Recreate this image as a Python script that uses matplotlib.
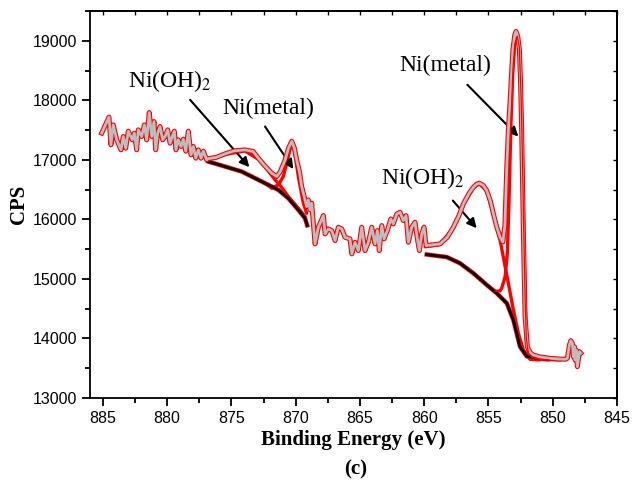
import matplotlib
matplotlib.use("Agg")
import matplotlib.pyplot as plt
from matplotlib.ticker import MultipleLocator

be_exp = [885.09, 884.52, 884.37, 884.19, 883.92, 883.59, 883.41, 883.22, 883.02, 882.71,
          882.55, 882.37, 882.24, 881.98, 881.77, 881.59, 881.39, 881.2, 881.02, 880.89,
          880.73, 880.55, 880.34, 880.16, 879.95, 879.77, 879.6, 879.44, 879.31, 879.13,
          878.92, 878.74, 878.55, 878.35, 878.14, 877.96, 877.77, 877.57, 877.36, 877.18,
          876.92,
          876.8, 876.2, 875.5, 874.8, 873.94, 873.3, 872.9, 872.4, 871.86, 871.47,
          871.2, 870.82, 870.55, 870.3, 870.1, 869.92, 869.7, 869.53, 869.3, 869.14,
          869.01, 868.88, 868.75, 868.49, 868.23, 867.84, 867.71, 867.46, 867.19, 866.93,
          866.68, 866.41, 866.16, 865.77, 865.63, 865.38, 865.12, 864.86, 864.6, 864.34,
          864.08, 863.82, 863.64, 863.49, 863.3, 863.12, 862.86, 862.6, 862.4, 862.13,
          861.88, 861.62, 861.41, 861.23, 860.97, 860.71, 860.53, 860.37, 860.19, 860.01,
          859.85,
          859.3, 858.76, 858.2, 857.73, 857.3, 856.95, 856.5, 856.17, 855.9, 855.7,
          855.4, 855.13, 854.85, 854.61, 854.35, 854.09, 853.88, 853.72, 853.57, 853.45,
          853.31, 853.1, 852.95, 852.85, 852.72, 852.59, 852.5, 852.41, 852.28, 852.15,
          851.97, 851.75, 851.5, 851.0, 850.2, 849.5, 849.0,
          848.86, 848.7, 848.59, 848.47, 848.39, 848.31, 848.26, 848.18, 848.08, 847.92,
          847.81]
cps_exp = [17449, 17718, 17252, 17588, 17336, 17168, 17392, 17196, 17482, 17336,
           17449, 17168, 17504, 17392, 17588, 17336, 17795, 17392, 17644, 17168,
           17449, 17560, 17336, 17392, 17504, 17280, 17392, 17482, 17168, 17336,
           17224, 17347, 17146, 17482, 17084, 17224, 17028, 17168, 17028, 17146,
           17000,
           17020, 17040, 17100, 17150, 17168, 17140, 17028, 16900, 16776, 16720,
           16800, 17000, 17200, 17313, 17200, 17000, 16800, 16552, 16350, 16216,
           16328, 16160, 16272, 15588, 15868, 16064, 15756, 15840, 15812, 15644,
           15868, 15840, 15700, 15672, 15420, 15616, 15476, 15868, 15476, 15616,
           15868, 15588, 15812, 15476, 15896, 15672, 15812, 16008, 15924, 16092,
           16120, 15980, 16064, 15616, 15868, 15952, 15672, 15476, 15756, 15868,
           15560,
           15575, 15588, 15700, 15868, 16060, 16260, 16440, 16540, 16595, 16608,
           16570, 16485, 16310, 16092, 15870, 15700, 15620, 15900, 16888, 17500,
           18008, 18849, 19100, 19157, 19080, 18849, 18300, 17449, 15768, 14366,
           13862, 13760, 13723, 13690, 13667, 13655, 13650,
           13667, 13891, 13963, 13920, 13694, 13862, 13639, 13807, 13526, 13779,
           13752]

# Shirley-type backgrounds
be_bg1 = [876.8, 875.5, 874.2, 873.42, 872.38, 871.35, 870.57, 869.79, 869.27, 869.1]
cps_bg1 = [16972, 16888, 16804, 16720, 16608, 16496, 16356, 16160, 16020, 15900]
be_bg2 = [859.8, 858.24, 857.21, 856.17, 855.13, 854.35, 853.57, 853.06, 852.54, 852.02,
          851.24, 850.5, 849.5]
cps_bg2 = [15410, 15367, 15263, 15095, 14899, 14760, 14592, 14311, 13862, 13700,
           13667, 13655, 13650]

# fitted components (2p1/2 region)
be_oh1 = [876.8, 875.5, 873.94, 872.9, 872.38, 871.6, 871.14, 870.57, 869.79, 869.27]
cps_oh1 = [17000, 17090, 17150, 17010, 16888, 16664, 16552, 16384, 16188, 16048]
be_met1 = [872.4, 871.86, 871.35, 870.96, 870.57, 870.36, 870.1, 869.79, 869.4, 869.14]
cps_met1 = [16610, 16524, 16580, 16720, 17056, 17252, 17168, 16720, 16272, 16104]

# fitted components (2p3/2 region)
be_oh2 = [859.93, 858.76, 857.73, 856.95, 856.17, 855.7, 855.13, 854.61, 854.09, 853.7,
          853.45, 853.06, 852.67, 852.28, 851.76, 851.0]
cps_oh2 = [15540, 15580, 15860, 16250, 16530, 16600, 16475, 16080, 15650, 15207,
           14928, 14479, 14087, 13807, 13650, 13640]
be_met2 = [854.5, 854.1, 853.96, 853.7, 853.53, 853.4, 853.25, 853.1, 852.95, 852.75,
           852.6, 852.45, 852.35, 852.25, 852.15, 852.05, 851.9, 851.6, 851.0, 850.3]
cps_met2 = [14790, 14800, 14850, 15039, 15432, 16300, 17600, 18500, 18950, 19078,
            18900, 18000, 17000, 15800, 14700, 14000, 13760, 13680, 13650, 13640]

plt.rcParams["mathtext.fontset"] = "stix"
serif = "Liberation Serif"
sans = "Liberation Sans"

fig = plt.figure(figsize=(6.4, 4.91), dpi=100)
ax = fig.add_axes([0.1406, 0.1894, 0.8234, 0.7882])

for be, cps in [(be_oh1, cps_oh1), (be_met1, cps_met1), (be_oh2, cps_oh2), (be_met2, cps_met2)]:
    ax.plot(be, cps, color="red", lw=2.4, zorder=2, solid_capstyle="round")

for be, cps in [(be_bg1, cps_bg1), (be_bg2, cps_bg2)]:
    ax.plot(be, cps, color="red", lw=3.2, zorder=3)
    ax.plot(be, cps, color="black", lw=2.0, zorder=4)

ax.plot(be_exp, cps_exp, color="red", lw=3.6, zorder=5, solid_joinstyle="round")
ax.plot(be_exp, cps_exp, color="#bdbdbd", lw=2.0, zorder=6, solid_joinstyle="round")
ax.plot(be_met2, cps_met2, color="red", lw=0.9, zorder=7)

ax.set_xlim(886, 845)
ax.set_ylim(13000, 19500)
ax.xaxis.set_major_locator(MultipleLocator(5))
ax.xaxis.set_minor_locator(MultipleLocator(2.5))
ax.yaxis.set_major_locator(MultipleLocator(1000))
ax.yaxis.set_minor_locator(MultipleLocator(500))
ax.tick_params(which="major", direction="out", length=6, width=1.3, labelsize=11.5, pad=3)
ax.tick_params(which="minor", direction="out", length=3.5, width=1.3)
for lab in ax.get_xticklabels() + ax.get_yticklabels():
    lab.set_family(sans)
for s in ax.spines.values():
    s.set_linewidth(1.3)

top = ax.secondary_xaxis("top")
top.xaxis.set_major_locator(MultipleLocator(2.5))
top.tick_params(direction="in", length=3, width=1.0, labeltop=False)
top.spines["top"].set_linewidth(1.3)
right = ax.secondary_yaxis("right")
right.yaxis.set_major_locator(MultipleLocator(500))
right.tick_params(direction="in", length=3, width=1.0, labelright=False)
right.spines["right"].set_linewidth(1.3)

ax.set_xlabel("Binding Energy (eV)", fontsize=15, fontweight="bold", family=serif, labelpad=3)
ax.set_ylabel("CPS", fontsize=15, fontweight="bold", family=serif, labelpad=3)
fig.text(0.556, 0.043, "(c)", fontsize=15, fontweight="bold", family=serif,
         ha="center", va="center")

arrow = dict(arrowstyle="-|>", color="black", lw=1.5, mutation_scale=14, shrinkA=0, shrinkB=0)
ax.annotate("", xy=(873.6, 16877), xytext=(878.21, 18008), arrowprops=arrow)
ax.annotate("", xy=(870.18, 16844), xytext=(872.38, 17560), arrowprops=arrow)
ax.annotate("", xy=(852.67, 17392), xytext=(856.64, 18261), arrowprops=arrow)
ax.annotate("", xy=(855.91, 15852), xytext=(857.77, 16316), arrowprops=arrow)

ax.text(879.8, 18330, "Ni(OH)$_2$", fontsize=17, family=serif, ha="center", va="center")
ax.text(872.13, 17860, "Ni(metal)", fontsize=17, family=serif, ha="center", va="center")
ax.text(858.38, 18580, "Ni(metal)", fontsize=17, family=serif, ha="center", va="center")
ax.text(860.09, 16698, "Ni(OH)$_2$", fontsize=17, family=serif, ha="center", va="center")

fig.savefig("out.png", dpi=100)
